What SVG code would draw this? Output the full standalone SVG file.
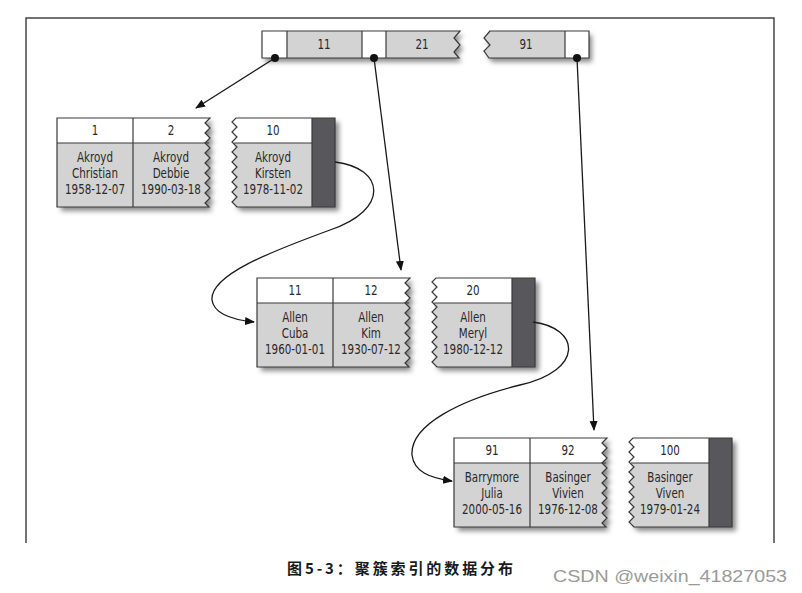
<svg xmlns="http://www.w3.org/2000/svg" xmlns:xlink="http://www.w3.org/1999/xlink" width="802" height="593" viewBox="0 0 802 593">
<style>
.t{font-family:"DejaVu Sans Condensed","Liberation Sans Narrow","Liberation Sans",sans-serif;font-size:13.5px;fill:#2a2a2a;text-anchor:middle}
.ol{fill:none;stroke:#3a3a3a;stroke-width:1.2}
.ln{stroke:#3a3a3a;stroke-width:1.2}
.gray{fill:#d3d3d3}
.white{fill:#ffffff}
.dark{fill:#58585c}
.sh{fill:#8a8a8a;filter:url(#blur)}
.conn{fill:none;stroke:#1a1a1a;stroke-width:1.3}
</style>
<defs>
<filter id="blur" x="-10%" y="-20%" width="130%" height="160%"><feGaussianBlur stdDeviation="2.5"/></filter>
<path id="pA" d="M0,0 H153 L148,5 L153,10 L148,15 L153,20 L148,25 L153,30 L148,35 L153,40 L148,45 L153,50 L148,55 L153,60 L148,65 L153,70 L148,75 L153,80 L148,85 L152,89 H0 Z"/>
<path id="pB" d="M278,0 V89 H180 L175,84 L180,79 L175,74 L180,69 L175,64 L180,59 L175,54 L180,49 L175,44 L180,39 L175,34 L180,29 L175,24 L180,19 L175,14 L180,9 L175,4 L179,0 Z"/>
<clipPath id="cA"><use xlink:href="#pA"/></clipPath>
<clipPath id="cB"><use xlink:href="#pB"/></clipPath>
<path id="tA" d="M0,0 H198 L192,7 L198,14 L192,21 L197,27 H0 Z"/>
<path id="tB" d="M227,0 H327 V27 H227 L222,20 L228,14 L222,7 L228,0 Z"/>
<clipPath id="ctA"><use xlink:href="#tA"/></clipPath>
<clipPath id="ctB"><use xlink:href="#tB"/></clipPath>
<marker id="ah" viewBox="0 0 10 10" refX="9" refY="5" markerWidth="10" markerHeight="10" markerUnits="userSpaceOnUse" orient="auto"><path d="M0,1 L10,5 L0,9 Z" fill="#111"/></marker>
<g id="leaf">
<use xlink:href="#pA" class="sh" transform="translate(4,4)"/>
<use xlink:href="#pB" class="sh" transform="translate(4,4)"/>
<g clip-path="url(#cA)"><rect width="160" height="89" class="gray"/><rect width="160" height="25" class="white"/></g>
<g clip-path="url(#cB)"><rect x="170" width="110" height="89" class="gray"/><rect x="170" width="110" height="25" class="white"/><rect x="255" width="23" height="89" class="dark"/></g>
<line x1="0" y1="25" x2="152" y2="25" class="ln"/>
<line x1="177" y1="25" x2="255" y2="25" class="ln"/>
<line x1="76" y1="0" x2="76" y2="89" class="ln"/>
<line x1="255" y1="0" x2="255" y2="89" class="ln"/>
<use xlink:href="#pA" class="ol"/>
<use xlink:href="#pB" class="ol"/>
</g>
</defs>
<rect width="802" height="593" fill="#ffffff"/>
<path d="M26,543 V18 H774 V543" fill="none" stroke="#444" stroke-width="1.5"/>

<g id="root" transform="translate(262,31)">
<use xlink:href="#tA" class="sh" transform="translate(3,4)"/>
<use xlink:href="#tB" class="sh" transform="translate(3,4)"/>
<g clip-path="url(#ctA)"><rect width="200" height="27" class="gray"/><rect width="25" height="27" class="white"/><rect x="100" width="24" height="27" class="white"/></g>
<g clip-path="url(#ctB)"><rect x="220" width="110" height="27" class="gray"/><rect x="303" width="24" height="27" class="white"/></g>
<line x1="25" y1="0" x2="25" y2="27" class="ln"/>
<line x1="100" y1="0" x2="100" y2="27" class="ln"/>
<line x1="124" y1="0" x2="124" y2="27" class="ln"/>
<line x1="303" y1="0" x2="303" y2="27" class="ln"/>
<use xlink:href="#tA" class="ol"/>
<use xlink:href="#tB" class="ol"/>
<g transform="scale(0.85,1)">
<text x="72.9" y="18.5" class="t">11</text>
<text x="188.2" y="18.5" class="t">21</text>
<text x="310.6" y="18.5" class="t">91</text>
</g>
</g>

<g id="leaf1" transform="translate(57,118)">
<use xlink:href="#leaf"/>
<g transform="scale(0.85,1)">
<text x="44.7" y="17.5" class="t">1</text>
<text x="134.1" y="17.5" class="t">2</text>
<text x="254.1" y="17.5" class="t">10</text>
<text x="44.7" y="44" class="t">Akroyd</text>
<text x="44.7" y="60" class="t">Christian</text>
<text x="44.7" y="76" class="t">1958-12-07</text>
<text x="134.1" y="44" class="t">Akroyd</text>
<text x="134.1" y="60" class="t">Debbie</text>
<text x="134.1" y="76" class="t">1990-03-18</text>
<text x="254.1" y="44" class="t">Akroyd</text>
<text x="254.1" y="60" class="t">Kirsten</text>
<text x="254.1" y="76" class="t">1978-11-02</text>
</g>
</g>

<g id="leaf2" transform="translate(257,278)">
<use xlink:href="#leaf"/>
<g transform="scale(0.85,1)">
<text x="44.7" y="17.5" class="t">11</text>
<text x="134.1" y="17.5" class="t">12</text>
<text x="254.1" y="17.5" class="t">20</text>
<text x="44.7" y="44" class="t">Allen</text>
<text x="44.7" y="60" class="t">Cuba</text>
<text x="44.7" y="76" class="t">1960-01-01</text>
<text x="134.1" y="44" class="t">Allen</text>
<text x="134.1" y="60" class="t">Kim</text>
<text x="134.1" y="76" class="t">1930-07-12</text>
<text x="254.1" y="44" class="t">Allen</text>
<text x="254.1" y="60" class="t">Meryl</text>
<text x="254.1" y="76" class="t">1980-12-12</text>
</g>
</g>

<g id="leaf3" transform="translate(454,438)">
<use xlink:href="#leaf"/>
<g transform="scale(0.85,1)">
<text x="44.7" y="17.5" class="t">91</text>
<text x="134.1" y="17.5" class="t">92</text>
<text x="254.1" y="17.5" class="t">100</text>
<text x="44.7" y="44" class="t">Barrymore</text>
<text x="44.7" y="60" class="t">Julia</text>
<text x="44.7" y="76" class="t">2000-05-16</text>
<text x="134.1" y="44" class="t">Basinger</text>
<text x="134.1" y="60" class="t">Vivien</text>
<text x="134.1" y="76" class="t">1976-12-08</text>
<text x="254.1" y="44" class="t">Basinger</text>
<text x="254.1" y="60" class="t">Viven</text>
<text x="254.1" y="76" class="t">1979-01-24</text>
</g>
</g>

<g id="connectors">
<line x1="275" y1="58" x2="196" y2="108" class="conn" marker-end="url(#ah)"/>
<line x1="374" y1="58" x2="401" y2="270" class="conn" marker-end="url(#ah)"/>
<line x1="577" y1="58" x2="594" y2="430" class="conn" marker-end="url(#ah)"/>
<path d="M335,162 C385,168 390,210 330,230 C270,252 210,275 212,300 C214,315 235,320 254,322" class="conn" marker-end="url(#ah)"/>
<path d="M533,322 C580,328 585,370 520,385 C460,400 410,425 412,455 C414,472 430,478 452,481" class="conn" marker-end="url(#ah)"/>
<circle cx="275" cy="58" r="4" fill="#111"/>
<circle cx="374" cy="58" r="4" fill="#111"/>
<circle cx="577" cy="58" r="4" fill="#111"/>
</g>

<text x="287" y="574" textLength="226" lengthAdjust="spacing" font-family="'Noto Sans CJK SC',monospace" font-weight="bold" font-size="15" fill="#1a1a1a">图5-3：聚簇索引的数据分布</text>
<text x="553" y="582" textLength="234" lengthAdjust="spacingAndGlyphs" font-family="'Liberation Sans',sans-serif" font-size="17" fill="#9a9a9a">CSDN @weixin_41827053</text>
</svg>
